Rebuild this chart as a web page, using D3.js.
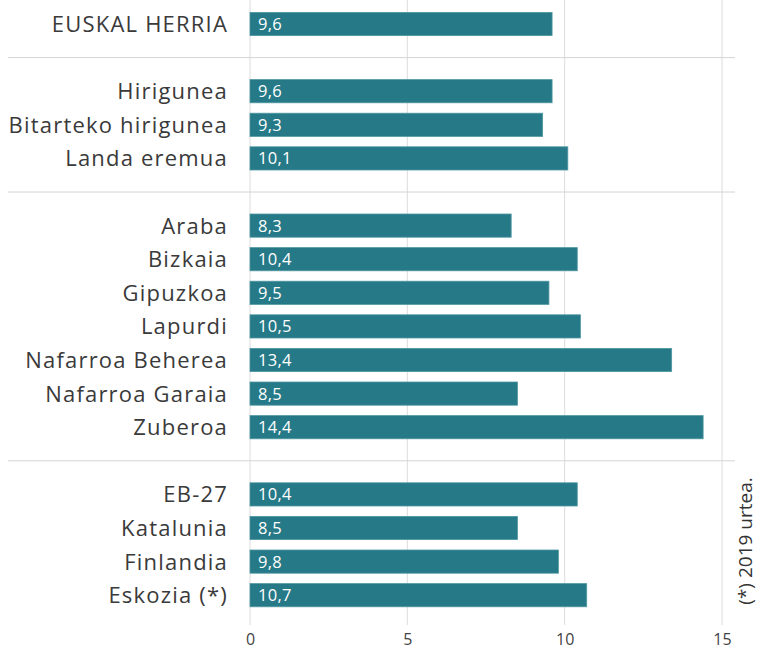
<!DOCTYPE html>
<html>
<head>
<meta charset="utf-8">
<script src="https://cdn.jsdelivr.net/npm/d3@7"></script>
<style>
  body { margin: 0; background: #fff; }
  svg { font-family: "Open Sans", sans-serif; }
</style>
</head>
<body>
<svg width="757" height="651"></svg>
<script>
var categories = ["EUSKAL HERRIA",
  "Hirigunea", "Bitarteko hirigunea", "Landa eremua",
  "Araba", "Bizkaia", "Gipuzkoa", "Lapurdi", "Nafarroa Beherea", "Nafarroa Garaia", "Zuberoa",
  "EB-27", "Katalunia", "Finlandia", "Eskozia (*)"];
var values = [9.6, 9.6, 9.3, 10.1, 8.3, 10.4, 9.5, 10.5, 13.4, 8.5, 14.4, 10.4, 8.5, 9.8, 10.7];
var groups = [0, 1, 1, 1, 2, 2, 2, 2, 2, 2, 2, 3, 3, 3, 3];
var xTicks = [0, 5, 10, 15];
var note = "(*) 2019 urtea.";

var svg = d3.select("svg"),
    width = +svg.attr("width"),
    height = +svg.attr("height");

var data = categories.map(function(c, i) {
  return { name: c, value: values[i], slot: i + groups[i] };
});
var nSlots = categories.length + d3.max(groups);

var x = d3.scaleLinear().domain([0, 15]).range([250, 722]);
var y = d3.scaleBand()
    .domain(d3.range(nSlots))
    .range([7.2, 7.2 + 33.6 * nSlots])
    .paddingInner(0.31)
    .paddingOuter(0.155);

// vertical grid
svg.append("g")
  .selectAll("line")
  .data(xTicks)
  .enter().append("line")
    .attr("x1", function(d) { return x(d); })
    .attr("x2", function(d) { return x(d); })
    .attr("y1", 0)
    .attr("y2", 625)
    .attr("stroke", "#dcdcdc")
    .attr("stroke-width", 1);

// group separators (blank slots)
var seps = d3.range(1, d3.max(groups) + 1).map(function(g) {
  var first = groups.indexOf(g);
  return first + g - 1;
});
svg.append("g")
  .selectAll("line")
  .data(seps)
  .enter().append("line")
    .attr("x1", 8)
    .attr("x2", 735)
    .attr("y1", function(s) { return y(s) + y.bandwidth() / 2; })
    .attr("y2", function(s) { return y(s) + y.bandwidth() / 2; })
    .attr("stroke", "#d4d4d4")
    .attr("stroke-width", 1);

// bars
var row = svg.append("g")
  .selectAll("g")
  .data(data)
  .enter().append("g");

row.append("rect")
    .attr("x", x(0))
    .attr("y", function(d) { return y(d.slot); })
    .attr("width", function(d) { return x(d.value) - x(0); })
    .attr("height", y.bandwidth())
    .attr("fill", "#267987")
    .attr("stroke", "#4f97a3")
    .attr("stroke-width", 0.8);

row.append("text")
    .attr("x", x(0) + 8)
    .attr("y", function(d) { return y(d.slot) + y.bandwidth() / 2; })
    .attr("dy", "0.36em")
    .attr("fill", "#fff")
    .attr("font-size", 16.5)
    .attr("letter-spacing", 0.3)
    .text(function(d) { return String(d.value).replace(".", ","); });

row.append("text")
    .attr("x", 228)
    .attr("y", function(d) { return y(d.slot) + y.bandwidth() / 2; })
    .attr("dy", "0.36em")
    .attr("text-anchor", "end")
    .attr("fill", "#3a3a3a")
    .attr("font-size", 22)
    .attr("letter-spacing", 1.2)
    .text(function(d) { return d.name; });

// x axis labels
var axis = svg.append("g")
    .attr("transform", "translate(0,640)")
    .call(d3.axisBottom(x).tickValues(xTicks).tickSize(0).tickPadding(0));
axis.select(".domain").remove();
axis.selectAll("text")
    .attr("font-family", "Open Sans, sans-serif")
    .attr("font-size", 16)
    .attr("fill", "#444")
    .attr("dy", "0.32em");

// rotated note
svg.append("text")
    .attr("transform", "translate(752,541) rotate(-90)")
    .attr("text-anchor", "middle")
    .attr("font-size", 19)
    .attr("fill", "#333")
    .text(note);
</script>
</body>
</html>
